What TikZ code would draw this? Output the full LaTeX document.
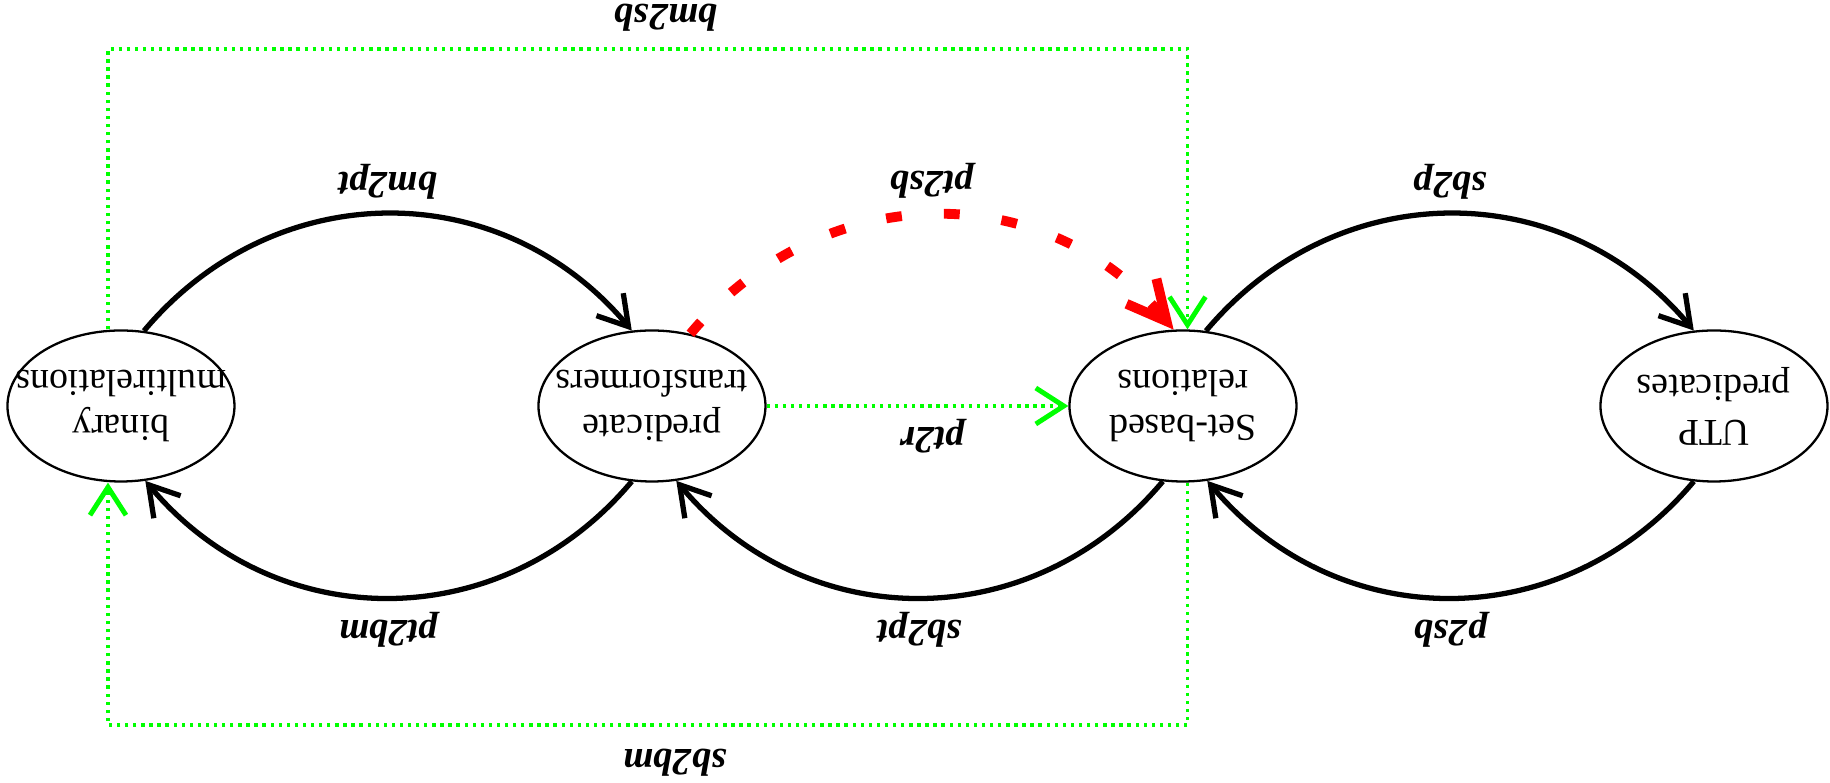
\documentclass[tikz,border=0pt]{standalone}
\usepackage{fontspec}
\setmainfont{Liberation Serif}
\usetikzlibrary{
	arrows.meta,
	shapes.geometric
}

\definecolor{linkgreen}{RGB}{0,255,0}
\definecolor{linkred}{RGB}{255,0,0}

\begin{document}
\begin{tikzpicture}[
			rotate=180,
			transform shape,
			model/.style={
				ellipse,
				draw,
				line width=0.65pt,
				minimum width=2.27cm,
				minimum height=1.51cm,
				inner sep=0pt
			},
			txt/.style={
				align=center,
				font=\fontsize{10.8}{12.8}\selectfont
			},
			lbl/.style={
				font=\fontsize{11}{13}\selectfont\bfseries\itshape
			},
			map/.style={
				line width=1.5pt,
				-{Straight Barb[length=2.9mm,width=3.5mm]}
			},
			over/.style={
				map,
				out=50, in=130, looseness=1.07
			},
			under/.style={
				map,
				out=230, in=310, looseness=1.07
			},
			direct/.style={
				draw=linkgreen,
				line width=0.95pt,
				dash pattern=on 0.95pt off 1.35pt,
				-{Straight Barb[length=2.8mm,width=3.6mm,line width=1.4pt]}
			},
			refine/.style={
				draw=linkred,
				line width=2.8pt,
				dash pattern=on 4.5pt off 12pt,
				out=230, in=310, looseness=1.07,
				-{Straight Barb[length=3.9mm,width=3.9mm]}
			}
			]
			
			\useasboundingbox (-1.16,-4.06) rectangle (17.14,3.77);
			
			\node[model, label={[txt, name=utp-text]center:UTP\\predicates}] (utp) at (0,0) {};
			\node[model, label={[txt, name=sb-text]center:Set-based\\relations}] (sb) at (5.31,0) {};
			\node[model, label={[txt, name=pt-text]center:predicate\\transformers}] (pt) at (10.62,0) {};
			\node[model, label={[txt, name=bm-text]center:binary\\multirelations}] (bm) at (15.93,0) {};
			
			\coordinate (tl) at (5.265,3.19);
			\coordinate (tr) at (16.06,3.19);
			\coordinate (bl) at (5.265,-3.57);
			\coordinate (br) at (16.06,-3.57);
			
			\draw[over] (utp.75) to node[lbl, above] (p2sb) {p2sb} (sb.108);
			\draw[over] (sb.75) to node[lbl, above] (sb2pt) {sb2pt} (pt.108);
			\draw[over] (pt.75) to node[lbl, above] (pt2bm) {pt2bm} (bm.108);
			\draw[under] (sb.253) to node[lbl, below] (sb2p) {sb2p} (utp.285);
			\draw[under] (bm.253) to node[lbl, below] (bm2pt) {bm2pt} (pt.285);
			\draw[refine] (pt.242) to node[lbl, below, text=black] (pt2sb) {pt2sb} (sb.277);
			
			\draw[direct] (pt) -- node[lbl, above, text=black, pos=0.55] (pt2r) {pt2r} (sb);
			\draw[direct] (sb.north -| tl) -- (tl) -- node[lbl, above=3pt, text=black, pos=0.475] (sb2bm) {sb2bm} (tr) -- (bm.north -| tr);
			\draw[direct] (bm.south -| br) -- (br) -- node[lbl, below=1.2pt, text=black, pos=0.517] (bm2sb) {bm2sb} (bl) -- (sb.south -| bl);
			
		\end{tikzpicture}
\end{document}
